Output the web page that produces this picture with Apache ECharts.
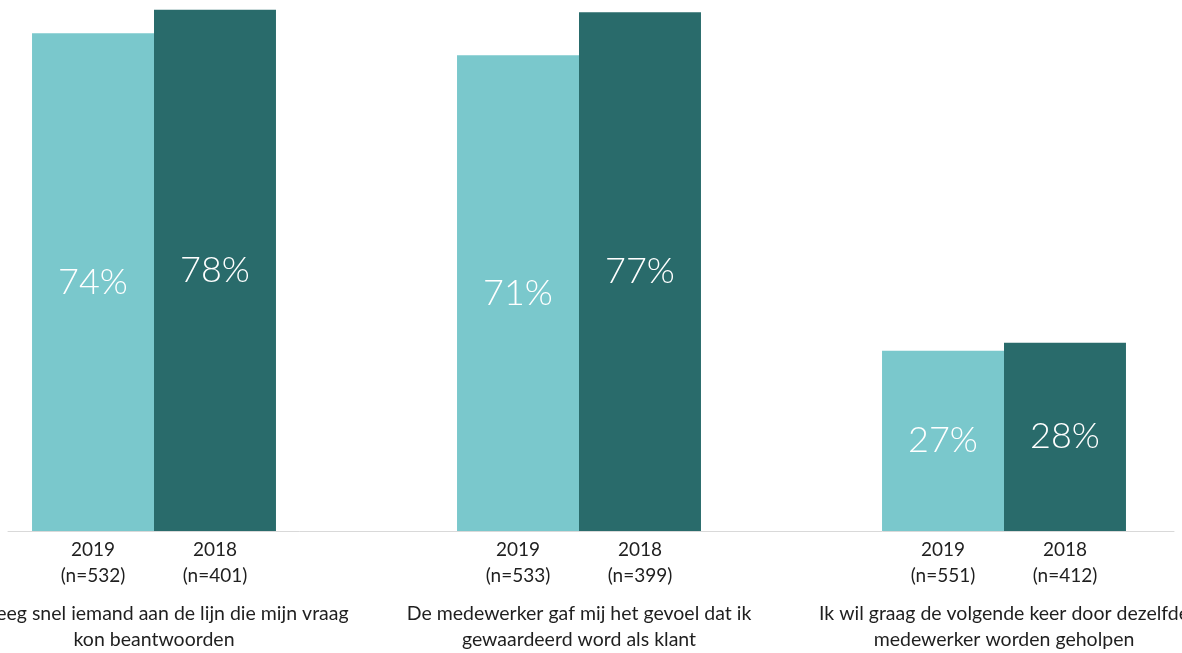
<!DOCTYPE html>
<html>
<head>
<meta charset="utf-8">
<script src="https://cdn.jsdelivr.net/npm/echarts@6/dist/echarts.min.js"></script>
<style>
  html, body { margin: 0; padding: 0; background: #fff; }
  #chart { width: 1182px; height: 653px; }
</style>
</head>
<body>
<div id="chart"></div>
<script>
// data
const categories = [
  "Ik kreeg snel iemand aan de lijn die mijn vraag\nkon beantwoorden",
  "De medewerker gaf mij het gevoel dat ik\ngewaardeerd word als klant",
  "Ik wil graag de volgende keer door dezelfde\nmedewerker worden geholpen",
]
const years = ["2019", "2018"]
const values2019 = [74.3, 71.0, 26.9]
const values2018 = [77.8, 77.4, 28.1]
const n2019 = [532, 533, 551]
const n2018 = [401, 399, 412]

const colors = ["#7AC8CC", "#296B6B"]
const fontFamily = "Lato, 'Noto Sans', sans-serif"
const textColor = "#1f1f1f"

const chart = echarts.init(document.getElementById("chart"))

function mainSeries(name, values, color) {
  return {
    name: name,
    type: "bar",
    stack: "y" + name,
    xAxisIndex: 0,
    yAxisIndex: 0,
    barGap: "0%",
    barCategoryGap: "42.6%",
    itemStyle: { color: color },
    label: {
      show: true,
      position: "inside",
      color: "#fff",
      fontFamily: fontFamily,
      fontSize: 36,
      fontWeight: 300,
      formatter: (p) => Math.round(p.value) + "%",
    },
    data: values,
  }
}

// zero-height helper bars carry the year / n labels under each bar
function yearSeries(name, counts) {
  return {
    name: name + "-n",
    type: "bar",
    stack: "y" + name,
    xAxisIndex: 0,
    yAxisIndex: 0,
    barGap: "0%",
    barCategoryGap: "42.6%",
    itemStyle: { color: "transparent" },
    label: {
      show: true,
      position: "bottom",
      distance: 6,
      color: textColor,
      fontFamily: fontFamily,
      fontSize: 19,
      lineHeight: 26,
      formatter: (p) => name + "\n(n=" + counts[p.dataIndex] + ")",
    },
    data: counts.map(() => 0),
  }
}

const option = {
  animation: false,
  grid: [
    { left: -58.5, right: -34.5, top: 5, bottom: 122, outerBoundsMode: "none", containLabel: false },
    { left: 8, right: 8, top: 5, bottom: 122, outerBoundsMode: "none", containLabel: false },
  ],
  xAxis: [
    {
      type: "category",
      gridIndex: 0,
      data: categories,
      axisLine: { show: false },
      axisTick: { show: false },
      axisLabel: {
        margin: 70,
        color: textColor,
        fontFamily: fontFamily,
        fontSize: 19.5,
        lineHeight: 26,
        interval: 0,
      },
    },
    {
      type: "value",
      gridIndex: 1,
      min: 0,
      max: 1,
      axisLine: { show: true, lineStyle: { color: "#d9d9d9", width: 1 } },
      axisTick: { show: false },
      axisLabel: { show: false },
      splitLine: { show: false },
    },
  ],
  yAxis: [
    { type: "value", gridIndex: 0, min: 0, max: 78.5, show: false },
    { type: "value", gridIndex: 1, min: 0, max: 1, show: false },
  ],
  series: [
    yearSeries(years[0], n2019),
    mainSeries(years[0], values2019, colors[0]),
    yearSeries(years[1], n2018),
    mainSeries(years[1], values2018, colors[1]),
  ],
}

chart.setOption(option)
</script>
</body>
</html>
